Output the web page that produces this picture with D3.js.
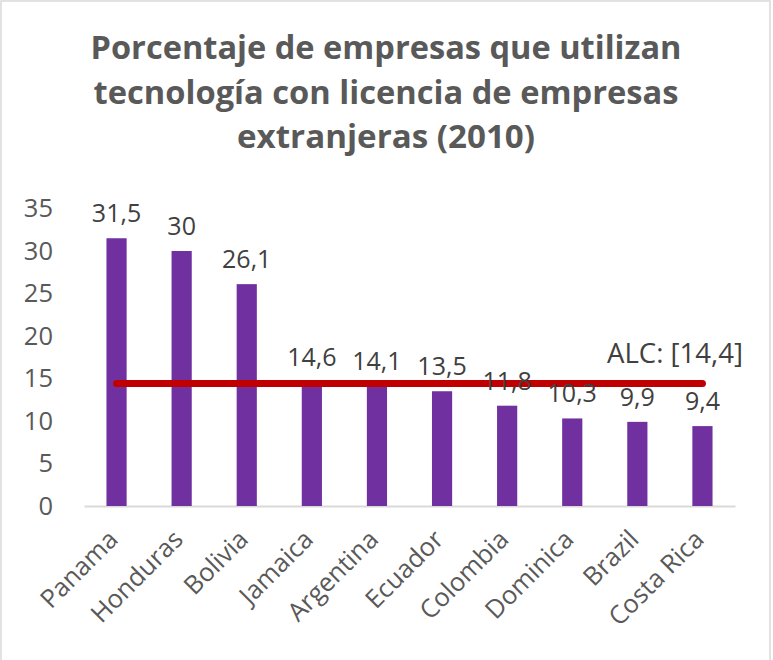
<!DOCTYPE html>
<html>
<head>
<meta charset="utf-8">
<script src="https://cdn.jsdelivr.net/npm/d3@7"></script>
<style>
  html, body { margin: 0; padding: 0; background: #fff; }
  svg { display: block; font-family: "Open Sans", "Noto Sans", sans-serif; }
</style>
</head>
<body>
<svg id="chart" width="773" height="660"></svg>
<script>
const titleLines = ["Porcentaje de empresas que utilizan", "tecnología con licencia de empresas", "extranjeras (2010)"];
const categories = ["Panama", "Honduras", "Bolivia", "Jamaica", "Argentina", "Ecuador", "Colombia", "Dominica", "Brazil", "Costa Rica"];
const values = [31.5, 30, 26.1, 14.6, 14.1, 13.5, 11.8, 10.3, 9.9, 9.4];
const alcValue = 14.4;
const alcLabel = "ALC: [14,4]";
const yTicks = [0, 5, 10, 15, 20, 25, 30, 35];

const fmt = v => String(v).replace(".", ",");
const svg = d3.select("#chart");

// border
svg.append("rect").attr("x", 1).attr("y", 1).attr("width", 769).attr("height", 665)
  .attr("fill", "#fff").attr("stroke", "#D9D9D9").attr("stroke-width", 1.5);

// title
const titleBaselines = [59, 103.5, 148];
const titleWidths = [591, 585, 298];
titleLines.forEach((t, i) => {
  const el = svg.append("text")
    .attr("x", 386).attr("y", titleBaselines[i])
    .attr("text-anchor", "middle")
    .attr("fill", "#595959")
    .attr("font-size", 32).attr("font-weight", 700)
    .text(t);
  const w = el.node().getComputedTextLength();
  if (Math.abs(w - titleWidths[i]) > 3) {
    el.attr("textLength", titleWidths[i]).attr("lengthAdjust", "spacingAndGlyphs");
  }
});

const x = d3.scaleBand().domain(categories).range([84, 735])
  .paddingInner(0.69).paddingOuter(0.345);
const y = d3.scaleLinear().domain([0, 35]).range([506, 208.5]);

// y axis
const yAxis = svg.append("g").attr("transform", "translate(57,0)")
  .call(d3.axisLeft(y).tickValues(yTicks).tickSize(0).tickPadding(4).tickFormat(d => d));
yAxis.select(".domain").remove();
yAxis.selectAll("text").attr("fill", "#595959").attr("font-size", 25.5)
  .attr("font-family", "'Open Sans', sans-serif");

// x axis
const xAxis = svg.append("g").attr("transform", "translate(0,506)")
  .call(d3.axisBottom(x).tickSize(0).tickSizeOuter(0).tickFormat(""));
xAxis.select(".domain").attr("stroke", "#D9D9D9").attr("stroke-width", 2);

// bars
svg.append("g").selectAll("rect").data(values).join("rect")
  .attr("x", (d, i) => x(categories[i]))
  .attr("y", d => y(d))
  .attr("width", x.bandwidth())
  .attr("height", d => y(0) - y(d))
  .attr("fill", "#7030A0");

// ALC line
const cFirst = x(categories[0]) + x.bandwidth() / 2;
const cLast = x(categories[categories.length - 1]) + x.bandwidth() / 2;
svg.append("line")
  .attr("x1", cFirst).attr("x2", cLast)
  .attr("y1", y(alcValue)).attr("y2", y(alcValue))
  .attr("stroke", "#C00000").attr("stroke-width", 7).attr("stroke-linecap", "round");

// data labels
svg.append("g").selectAll("text").data(values).join("text")
  .attr("x", (d, i) => x(categories[i]) + x.bandwidth() / 2)
  .attr("y", d => y(d) - 16)
  .attr("text-anchor", "middle")
  .attr("fill", "#404040").attr("font-size", 25)
  .text(d => fmt(d));

// ALC label
svg.append("text").attr("x", 743).attr("y", 363)
  .attr("text-anchor", "end").attr("fill", "#404040").attr("font-size", 26.5)
  .attr("textLength", 136).attr("lengthAdjust", "spacingAndGlyphs")
  .text(alcLabel);

// category labels
svg.append("g").selectAll("text").data(categories).join("text")
  .attr("transform", d => `translate(${x(d) + x.bandwidth() / 2 + 3},541) rotate(-45)`)
  .attr("text-anchor", "end")
  .attr("fill", "#595959").attr("font-size", 25.5)
  .text(d => d);
</script>
</body>
</html>
